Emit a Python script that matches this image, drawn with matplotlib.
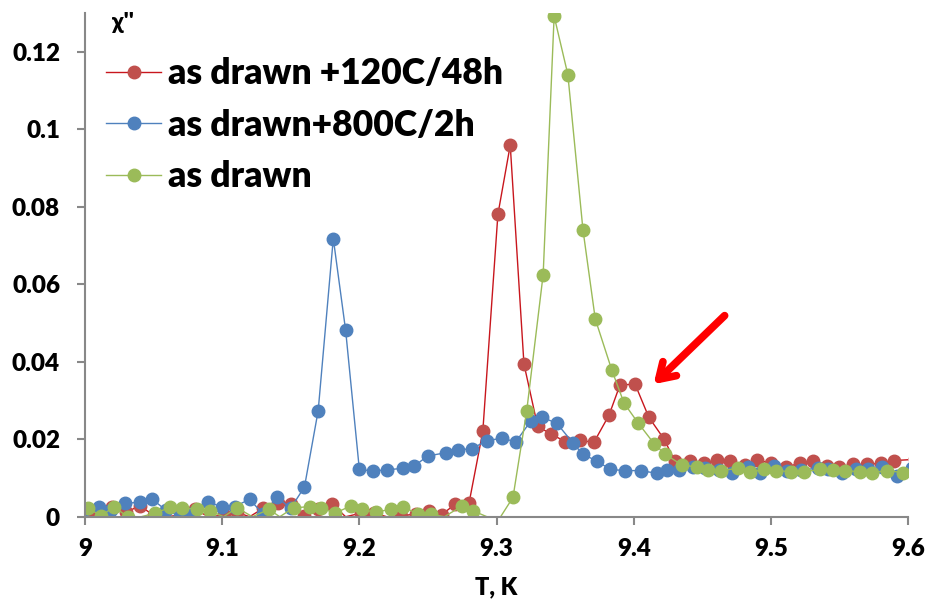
import numpy as np
import matplotlib
matplotlib.use("Agg")
import matplotlib.pyplot as plt

# chi'' vs T, three samples
T_red = [9.002, 9.010, 9.020, 9.030, 9.040, 9.050, 9.060, 9.070, 9.080, 9.090,
         9.101, 9.111, 9.120, 9.130, 9.141, 9.150, 9.160, 9.170, 9.180, 9.190,
         9.201, 9.211, 9.220, 9.230, 9.241, 9.251, 9.260, 9.270, 9.280, 9.290,
         9.301, 9.310, 9.320, 9.330, 9.340, 9.350, 9.361, 9.371, 9.382, 9.390,
         9.401, 9.411, 9.422, 9.430, 9.441, 9.451, 9.461, 9.470, 9.481, 9.490,
         9.500, 9.511, 9.521, 9.531, 9.541, 9.550, 9.560, 9.570, 9.580, 9.590,
         9.605]
chi_red = [0.0002, 0.0010, 0.0026, 0.0012, 0.0028, 0.0004, -0.0010, 0.0005, 0.0019, -0.0008,
           0.0004, 0.0011, -0.0012, 0.0022, 0.0035, 0.0033, 0.0002, 0.0020, 0.0033, -0.0010,
           0.0009, 0.0009, -0.0006, 0.0002, 0.0007, 0.0015, 0.0005, 0.0033, 0.0036, 0.0220,
           0.0780, 0.0959, 0.0394, 0.0233, 0.0213, 0.0194, 0.0197, 0.0192, 0.0262, 0.0340,
           0.0342, 0.0257, 0.0201, 0.0144, 0.0144, 0.0138, 0.0147, 0.0144, 0.0134, 0.0147,
           0.0138, 0.0128, 0.0138, 0.0145, 0.0131, 0.0129, 0.0135, 0.0135, 0.0138, 0.0145,
           0.0148]

T_blue = [9.000, 9.010, 9.019, 9.029, 9.040, 9.049, 9.059, 9.069, 9.079, 9.090,
          9.100, 9.109, 9.120, 9.130, 9.140, 9.150, 9.160, 9.170, 9.181, 9.190,
          9.200, 9.210, 9.220, 9.232, 9.240, 9.250, 9.263, 9.272, 9.282, 9.293,
          9.304, 9.314, 9.325, 9.333, 9.344, 9.356, 9.363, 9.373, 9.383, 9.394,
          9.405, 9.417, 9.424, 9.433, 9.443, 9.452, 9.462, 9.472, 9.483, 9.492,
          9.502, 9.512, 9.522, 9.534, 9.542, 9.552, 9.562, 9.571, 9.581, 9.592,
          9.603]
chi_blue = [0.0020, 0.0026, 0.0018, 0.0035, 0.0037, 0.0045, 0.0017, 0.0002, 0.0010, 0.0039,
            0.0024, 0.0026, 0.0045, 0.0006, 0.0050, 0.0022, 0.0077, 0.0274, 0.0718, 0.0481,
            0.0122, 0.0118, 0.0121, 0.0125, 0.0131, 0.0157, 0.0165, 0.0172, 0.0176, 0.0196,
            0.0203, 0.0193, 0.0247, 0.0257, 0.0241, 0.0189, 0.0161, 0.0144, 0.0122, 0.0119,
            0.0119, 0.0112, 0.0121, 0.0121, 0.0128, 0.0125, 0.0120, 0.0114, 0.0128, 0.0114,
            0.0131, 0.0119, 0.0121, 0.0125, 0.0122, 0.0114, 0.0122, 0.0122, 0.0128, 0.0105,
            0.0125]

T_green = [9.002, 9.012, 9.021, 9.031, 9.041, 9.051, 9.062, 9.071, 9.082, 9.091,
           9.101, 9.111, 9.122, 9.134, 9.142, 9.152, 9.164, 9.172, 9.182, 9.194,
           9.202, 9.212, 9.223, 9.232, 9.243, 9.252, 9.262, 9.275, 9.283, 9.293,
           9.303, 9.312, 9.322, 9.334, 9.342, 9.352, 9.363, 9.372, 9.384, 9.393,
           9.403, 9.415, 9.423, 9.435, 9.446, 9.454, 9.464, 9.476, 9.485, 9.495,
           9.504, 9.515, 9.524, 9.536, 9.545, 9.554, 9.565, 9.574, 9.585, 9.596,
           9.606]
chi_green = [0.0022, 0.0002, 0.0026, 0.0000, -0.0008, 0.0009, 0.0024, 0.0023, 0.0019, 0.0016,
             -0.0006, 0.0023, -0.0008, 0.0019, -0.0005, 0.0023, 0.0026, 0.0023, 0.0009, 0.0028,
             0.0019, 0.0011, 0.0020, 0.0026, 0.0006, 0.0007, -0.0005, 0.0028, 0.0015, -0.0010,
             -0.0010, 0.0050, 0.0273, 0.0625, 0.1292, 0.1141, 0.0741, 0.0510, 0.0379, 0.0293,
             0.0243, 0.0188, 0.0161, 0.0134, 0.0128, 0.0121, 0.0119, 0.0125, 0.0115, 0.0122,
             0.0119, 0.0116, 0.0116, 0.0122, 0.0121, 0.0119, 0.0116, 0.0114, 0.0119, 0.0114,
             0.0120]

labels = ["as drawn +120C/48h", "as drawn+800C/2h", "as drawn"]
line_colors = ["#C8161D", "#4F81BD", "#9BBB59"]
marker_colors = ["#C0504D", "#4F81BD", "#9BBB59"]

plt.rcParams['font.family'] = ['Lato', 'DejaVu Sans']
plt.rcParams['font.weight'] = 'heavy'

fig = plt.figure(figsize=(9.26, 6.04), dpi=100)
ax = fig.add_axes([0.0918, 0.1445, 0.8888, 0.834])

series = [(T_red, chi_red), (T_blue, chi_blue), (T_green, chi_green)]
for i, (t, c) in enumerate(series):
    t = np.array(t)
    c = np.array(c)
    # excel-like: line clamped at the axis floor, hidden markers below it
    ax.plot(t, np.maximum(c, 0), color=line_colors[i], lw=1.0, zorder=2 + i)
    ax.plot(t, np.where(c >= 0, c, np.nan), ls='none', marker='o', ms=9,
            mfc=marker_colors[i], mec=marker_colors[i], zorder=2 + i)
    # legend proxy
    ax.plot([], [], color=line_colors[i], lw=1.0, marker='o', ms=9,
            mfc=marker_colors[i], mec=marker_colors[i], label=labels[i])

ax.set_xlim(9.0, 9.6)
ax.set_ylim(0, 0.13)
ax.set_xticks([9.0, 9.1, 9.2, 9.3, 9.4, 9.5, 9.6])
ax.set_xticklabels(["9", "9.1", "9.2", "9.3", "9.4", "9.5", "9.6"])
ax.set_yticks([0, 0.02, 0.04, 0.06, 0.08, 0.1, 0.12])
ax.set_yticklabels(["0", "0.02", "0.04", "0.06", "0.08", "0.1", "0.12"])

for s in ['top', 'right']:
    ax.spines[s].set_visible(False)
for s in ['left', 'bottom']:
    ax.spines[s].set_color('#888888')
    ax.spines[s].set_linewidth(1.5)
    ax.spines[s].set_zorder(10)
ax.tick_params(axis='both', direction='out', length=6, width=1.5, color='#888888',
               labelsize=17.5, labelcolor='black')
ax.tick_params(axis='x', pad=9)
ax.tick_params(axis='y', pad=12)

ax.set_xlabel("T, K", fontsize=17, fontweight='heavy', labelpad=12)
fig.text(0.121, 0.962, "χ''", fontsize=16.5, fontweight='heavy', va='center')

leg = ax.legend(loc='upper left', bbox_to_anchor=(0.026, 0.912), frameon=False,
                handlelength=1.55, handletextpad=0.2, labelspacing=0.52,
                borderaxespad=0.0, borderpad=0.0,
                prop={'weight': 'heavy', 'size': 25.5})

ax.annotate("", xy=(9.4145, 0.0342), xytext=(9.4663, 0.0519),
            arrowprops=dict(arrowstyle='->,head_length=1.1,head_width=0.7',
                            color='#FF0000', lw=5.5, shrinkA=0, shrinkB=0))

fig.savefig("out.png", dpi=100)
